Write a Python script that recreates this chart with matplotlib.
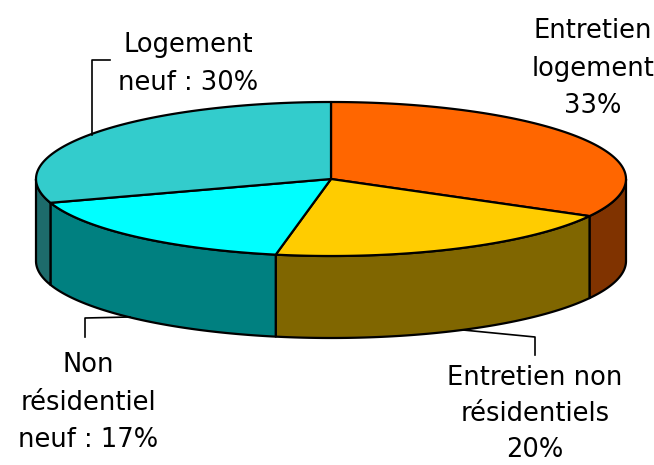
import numpy as np
import matplotlib.pyplot as plt
from matplotlib.patches import Polygon

# data
labels = ["Entretien\nlogement\n33%", "Entretien non\nrésidentiels\n20%",
          "Non\nrésidentiel\nneuf : 17%", "Logement\nneuf : 30%"]
shares = [33, 20, 17, 30]
top_colors = ["#FF6600", "#FFCC00", "#00FFFF", "#33CCCC"]
side_colors = ["#803300", "#806600", "#008080", "#1D6B6B"]

# geometry of the 3d pie, in pixels
cx, cy = 331, 179
rx, ry = 295, 77
depth = 82


def pt(theta, dz=0):
    t = np.radians(theta)
    return cx + rx * np.cos(t), cy - ry * np.sin(t) + dz


fig = plt.figure(figsize=(6.54, 4.65), dpi=100)
ax = fig.add_axes([0, 0, 1, 1])
ax.set_xlim(0, 654)
ax.set_ylim(465, 0)
ax.axis("off")

fracs = np.array(shares) / sum(shares)
starts = 90 - 360 * np.concatenate([[0], np.cumsum(fracs)[:-1]])
ends = starts - 360 * fracs

# sides (only the front half, angles between -180 and 0)
for a0, a1, col in zip(starts, ends, side_colors):
    lo, hi = max(a1, -180), min(a0, 0)
    if lo >= hi:
        continue
    th = np.linspace(hi, lo, 80)
    top = [pt(t) for t in th]
    bot = [pt(t, depth) for t in th[::-1]]
    ax.add_patch(Polygon(top + bot, closed=True, fc=col, ec="black", lw=1.6,
                         joinstyle="round"))

# top faces
for a0, a1, col in zip(starts, ends, top_colors):
    th = np.linspace(a0, a1, 120)
    verts = [(cx, cy)] + [pt(t) for t in th]
    ax.add_patch(Polygon(verts, closed=True, fc=col, ec="black", lw=1.6,
                         joinstyle="round"))

# labels (first-line baseline, line gap)
label_pos = [(593, 38, 37.5), (535, 385, 36), (88, 372, 37.5), (188, 52, 37.5)]
for text, (x, y, gap) in zip(labels, label_pos):
    for i, line in enumerate(text.split("\n")):
        ax.text(x, y + i * gap, line, ha="center", va="baseline",
                fontsize=18.5, family="DejaVu Sans", color="black")

# leader lines
leaders = [
    [(463, 330), (535, 337), (535, 355)],
    [(130, 317), (85, 318), (85, 337)],
    [(110, 60), (92, 60), (92, 135)],
]
for seg in leaders:
    xs, ys = zip(*seg)
    ax.plot(xs, ys, color="black", lw=1.2)

fig.savefig("out.png", dpi=100)
